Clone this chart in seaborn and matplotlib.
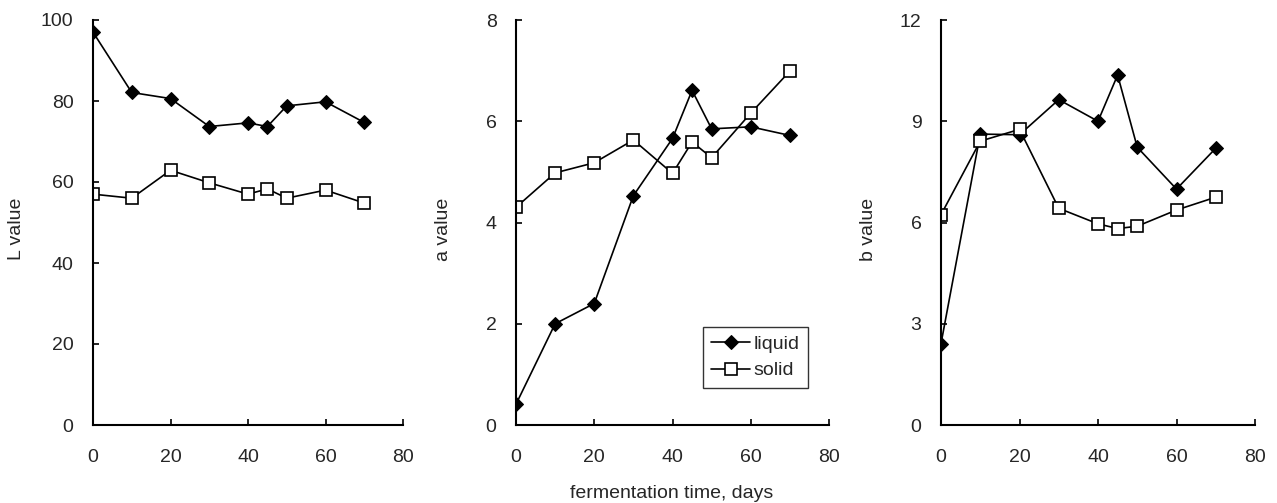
import matplotlib
matplotlib.use("Agg")
import matplotlib.pyplot as plt
import seaborn as sns
import pandas as pd

days = [0, 10, 20, 30, 40, 45, 50, 60, 70]
L_liquid = [97.0, 82.1, 80.6, 73.7, 74.6, 73.7, 78.8, 79.8, 74.7]
L_solid = [57.0, 56.0, 62.9, 59.8, 57.0, 58.3, 56.0, 58.0, 54.8]
a_liquid = [0.41, 2.0, 2.40, 4.53, 5.66, 6.61, 5.85, 5.89, 5.72]
a_solid = [4.30, 4.98, 5.18, 5.63, 4.97, 5.59, 5.28, 6.16, 6.99]
b_liquid = [2.41, 8.62, 8.60, 9.64, 9.0, 10.37, 8.23, 6.99, 8.20]
b_solid = [6.23, 8.41, 8.76, 6.42, 5.96, 5.82, 5.89, 6.37, 6.75]

panels = [
    ("L value", L_liquid, L_solid, [0, 20, 40, 60, 80, 100], 100),
    ("a value", a_liquid, a_solid, [0, 2, 4, 6, 8], 8),
    ("b value", b_liquid, b_solid, [0, 3, 6, 9, 12], 12),
]
x_ticks = [0, 20, 40, 60, 80]
xlabel = "fermentation time, days"

sns.set_style("ticks")
plt.rcParams["font.family"] = ["Liberation Sans", "DejaVu Sans"]
plt.rcParams["font.size"] = 14

W, H = 1277, 503
fig = plt.figure(figsize=(W / 100, H / 100), dpi=100)
lefts = [93, 516, 941]
widths = [310, 313, 314]
label_x = [-0.219, -0.204, -0.204]
top_px, bot_px = 20, 425

for i, (ylab, liq, sol, yt, ymax) in enumerate(panels):
    ax = fig.add_axes([lefts[i] / W, (H - bot_px) / H, widths[i] / W, (bot_px - top_px) / H])
    df = pd.DataFrame({"days": days, "liquid": liq, "solid": sol})
    sns.lineplot(data=df, x="days", y="liquid", ax=ax, color="black", lw=1.2,
                 marker="D", markersize=7, markerfacecolor="black",
                 markeredgecolor="black", label="liquid", legend=False)
    sns.lineplot(data=df, x="days", y="solid", ax=ax, color="black", lw=1.2,
                 marker="s", markersize=8.5, markerfacecolor="white",
                 markeredgecolor="black", markeredgewidth=1.2, label="solid", legend=False)
    ax.set_xlim(0, 80)
    ax.set_ylim(0, ymax)
    ax.set_xticks(x_ticks)
    ax.set_yticks(yt)
    ax.tick_params(direction="in", length=4, width=1.2, labelsize=14, color="black")
    ax.tick_params(axis="y", pad=14)
    ax.tick_params(axis="x", pad=17)
    for s in ["top", "right"]:
        ax.spines[s].set_visible(False)
    for s in ["left", "bottom"]:
        ax.spines[s].set_linewidth(1.5)
        ax.spines[s].set_color("black")
    ax.set_xlabel("")
    ax.set_ylabel(ylab, fontsize=14)
    ax.yaxis.set_label_coords(label_x[i], 0.484)
    ax.set_facecolor("white")
    if i == 1:
        leg = ax.legend(loc="lower right", bbox_to_anchor=(0.933, 0.091),
                        frameon=True, fancybox=False, edgecolor="black",
                        fontsize=14, handlelength=2.0, borderpad=0.45,
                        labelspacing=0.45, handletextpad=0.15, borderaxespad=0)
        leg.get_frame().set_linewidth(1.0)

fig.text(672 / W, 1 - 494 / H, xlabel, ha="center", va="center", fontsize=14)
fig.savefig("out.png", dpi=100, facecolor="white")
